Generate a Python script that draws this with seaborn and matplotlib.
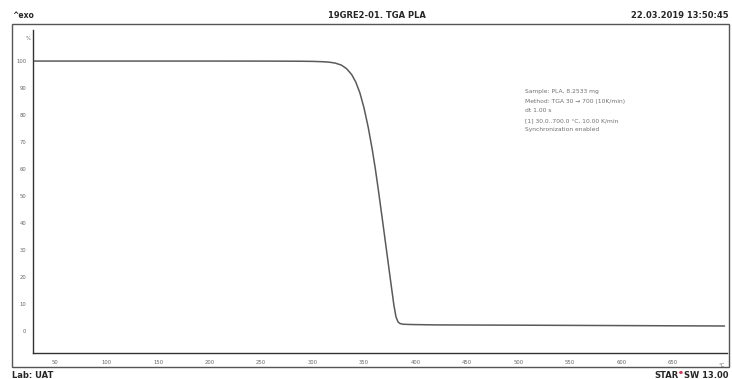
import numpy as np
import pandas as pd
import matplotlib
matplotlib.use("Agg")
import matplotlib.pyplot as plt
from matplotlib.patches import Rectangle
from matplotlib.ticker import MultipleLocator, FixedLocator
import seaborn as sns

# TGA curve: temperature in degC, mass in %
temperature = [30, 100, 200, 260, 290, 300, 310, 316, 322, 328, 333, 338, 342,
               346, 350, 354, 358, 361, 364, 368, 372, 376, 379, 381, 383,
               385, 388, 395, 420, 500, 600, 700]
mass = [100.0, 100.0, 100.0, 99.98, 99.93, 99.88, 99.75, 99.6, 99.25, 98.5,
        97.2, 95.0, 92.2, 88.2, 82.6, 75.6, 67.2, 60.0, 52.0, 40.8, 29.4, 18.0,
        9.6, 5.3, 3.4, 2.8, 2.55, 2.45, 2.3, 2.2, 2.05, 1.9]

y_ticks = [0, 10, 20, 30, 40, 50, 60, 70, 80, 90, 100]
x_ticks = [50, 100, 150, 200, 250, 300, 350, 400, 450, 500, 550, 600, 650]

title = "19GRE2-01. TGA PLA"
stamp = "22.03.2019 13:50:45"
info_lines = ["Sample: PLA, 8.2533 mg",
              "Method: TGA 30 \u2192 700 (10K/min)",
              "dt 1.00 s",
              "[1] 30.0..700.0 \u00b0C, 10.00 K/min",
              "Synchronization enabled"]

df = pd.DataFrame({"T": temperature, "m": mass})

sns.set_style("white")
plt.rcParams["font.family"] = ["DejaVu Sans"]

fig = plt.figure(figsize=(7.32, 3.79), dpi=100)
W, H = 732, 379
ax = fig.add_axes([33 / W, 1 - 353 / H, (727 - 33) / W, (353 - 30) / H])

sns.lineplot(data=df, x="T", y="m", ax=ax, color="#5a5a5a", linewidth=1.1)

ax.set_xlim(28.6, 702.4)
ax.set_ylim(-8.1, 111.5)
ax.set_xlabel("")
ax.set_ylabel("")

for side in ["top", "right"]:
    ax.spines[side].set_visible(False)
for side in ["left", "bottom"]:
    ax.spines[side].set_color("#333333")
    ax.spines[side].set_linewidth(1.0)

ax.xaxis.set_major_locator(FixedLocator(x_ticks))
ax.yaxis.set_major_locator(FixedLocator(y_ticks))
ax.xaxis.set_minor_locator(MultipleLocator(10))
ax.yaxis.set_minor_locator(MultipleLocator(1))
ax.tick_params(axis="both", which="major", labelsize=3.8, labelcolor="#666666",
               length=3, width=0.6, color="#444444", direction="out", pad=2)
ax.tick_params(axis="both", which="minor", length=1.5, width=0.4,
               color="#444444", direction="out")

# units at the ends of the axes
ax.text(-0.004, 108.5, "%", transform=ax.get_yaxis_transform(), ha="right",
        va="center", fontsize=3.8, color="#666666")
ax.text(697, -0.03, "\u00b0C", transform=ax.get_xaxis_transform(), ha="center",
        va="top", fontsize=3.8, color="#666666")

# sample info block
for i, line in enumerate(info_lines):
    ax.text(525 / W, 1 - (92 + i * 9.5) / H, line, transform=fig.transFigure,
            fontsize=4.3, color="#707070", va="center", ha="left")

# outer frame and header
fig.patches.append(Rectangle((12 / W, 1 - 367 / H), (729 - 12) / W, (367 - 24) / H,
                             transform=fig.transFigure, fill=False,
                             edgecolor="#555555", linewidth=1.0))
fig.text(12 / W, 1 - 16 / H, "^exo", fontsize=5.5, fontweight="bold",
         ha="left", va="center")
fig.text(377 / W, 1 - 15 / H, title, fontsize=6, fontweight="bold",
         ha="center", va="center")
fig.text(729 / W, 1 - 15 / H, stamp, fontsize=6, fontweight="bold",
         ha="right", va="center")

# footer: "STAR" + red superscript "e" + " SW 13.00", laid out left of the edge
fig.text(12 / W, 1 - 375 / H, "Lab: UAT", fontsize=6, fontweight="bold",
         ha="left", va="center")
renderer = fig.canvas.get_renderer()
sw = fig.text(729 / W, 1 - 375 / H, "SW 13.00", fontsize=6, fontweight="bold",
              ha="right", va="center")
x_left = sw.get_window_extent(renderer).x0 - 2
sup = fig.text(x_left / W, 1 - 372.5 / H, "e", fontsize=4.2, fontweight="bold",
               color="#d0103a", ha="right", va="center")
x_left = sup.get_window_extent(renderer).x0
fig.text(x_left / W, 1 - 375 / H, "STAR", fontsize=6, fontweight="bold",
         ha="right", va="center")

fig.savefig("out.png", dpi=100)
